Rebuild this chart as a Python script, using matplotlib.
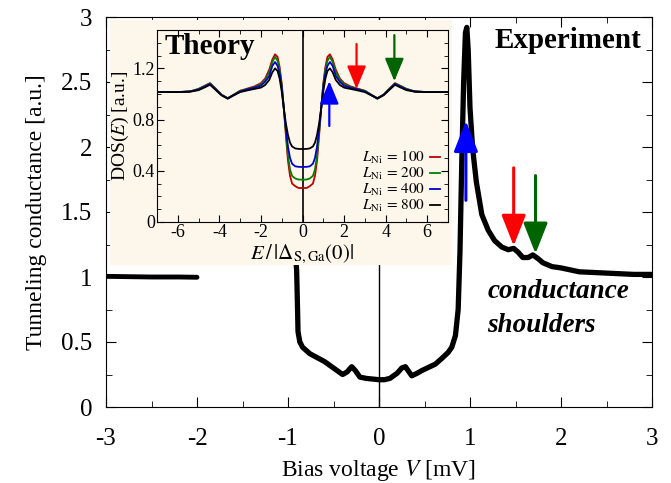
import numpy as np
import matplotlib.pyplot as plt
from matplotlib.patches import Rectangle

plt.rcParams['font.family'] = 'serif'
plt.rcParams['font.serif'] = ['Liberation Serif', 'DejaVu Serif']
plt.rcParams['mathtext.fontset'] = 'stix'
plt.rcParams['axes.unicode_minus'] = False

# measured tunneling conductance (experiment)
v_left = [-3.0, -2.8, -2.5, -2.2, -2.0]
g_left = [1.005, 1.003, 1.0, 1.0, 0.998]

v_exp = [-0.92, -0.905, -0.9, -0.895, -0.89, -0.87, -0.84, -0.76, -0.68, -0.6, -0.54,
         -0.46, -0.40, -0.35, -0.30, -0.26, -0.21, -0.14, -0.07, 0.0, 0.06, 0.12,
         0.20, 0.25, 0.29, 0.33, 0.36, 0.42, 0.47, 0.53, 0.62, 0.70, 0.76, 0.80,
         0.84, 0.87, 0.89, 0.91, 0.93, 0.95, 0.965, 0.98, 1.00, 1.03, 1.07, 1.13,
         1.20, 1.27, 1.35, 1.42, 1.48, 1.53, 1.58, 1.64, 1.69, 1.75, 1.80, 1.90,
         2.0, 2.2, 2.5, 2.8, 3.0]
g_exp = [1.2, 1.05, 0.9, 0.75, 0.58, 0.5, 0.46, 0.41, 0.38, 0.35, 0.32,
         0.28, 0.25, 0.27, 0.31, 0.28, 0.23, 0.22, 0.215, 0.21, 0.21, 0.22,
         0.26, 0.30, 0.31, 0.27, 0.24, 0.26, 0.28, 0.30, 0.33, 0.38, 0.42, 0.46,
         0.55, 0.75, 1.2, 1.9, 2.5, 2.88, 2.92, 2.75, 2.3, 1.98, 1.73, 1.48,
         1.36, 1.28, 1.23, 1.21, 1.22, 1.19, 1.15, 1.15, 1.17, 1.14, 1.11, 1.08,
         1.07, 1.04, 1.03, 1.02, 1.02]

# theory: DOS(E), symmetric in E, values for E >= 0
e_half = [0.0, 0.2, 0.35, 0.5, 0.6, 0.7, 0.8, 0.9, 1.0, 1.1, 1.2, 1.32, 1.45, 1.6,
          1.8, 2.0, 2.3, 2.6, 3.0, 3.3, 3.6, 3.9, 4.2, 4.45, 4.7, 5.0, 5.4, 6.0, 7.0]
dos_100 = [0.265, 0.266, 0.28, 0.30, 0.36, 0.48, 0.68, 0.89, 1.08, 1.21, 1.29, 1.31, 1.27,
           1.19, 1.12, 1.085, 1.06, 1.045, 1.025, 0.995, 0.967, 0.995, 1.045, 1.085,
           1.065, 1.04, 1.02, 1.015, 1.015]
dos_200 = [0.33, 0.332, 0.34, 0.36, 0.41, 0.52, 0.70, 0.89, 1.07, 1.19, 1.26, 1.29, 1.25,
           1.17, 1.11, 1.075, 1.055, 1.04, 1.025, 0.995, 0.967, 0.995, 1.045, 1.082,
           1.062, 1.04, 1.02, 1.015, 1.015]
dos_400 = [0.43, 0.431, 0.435, 0.455, 0.50, 0.59, 0.73, 0.89, 1.05, 1.16, 1.22, 1.25, 1.22,
           1.14, 1.095, 1.065, 1.05, 1.038, 1.02, 0.993, 0.966, 0.993, 1.04, 1.078,
           1.058, 1.035, 1.02, 1.015, 1.015]
dos_800 = [0.57, 0.571, 0.575, 0.59, 0.62, 0.68, 0.77, 0.89, 1.02, 1.12, 1.18, 1.20,
           1.17, 1.11, 1.07, 1.05, 1.04, 1.03, 1.015, 0.99, 0.963, 0.99, 1.035, 1.072,
           1.052, 1.03, 1.018, 1.015, 1.015]
lengths = [100, 200, 400, 800]
colors = ['#c00000', '#008000', '#0000c8', 'black']


def mirror(vals, sign=1):
    vals = np.asarray(vals)
    return np.concatenate([sign * vals[::-1], vals[1:]])


def arrow(ax, x, y0, y1, color, hl, hw, lw=1.6):
    ax.annotate('', xy=(x, y1), xytext=(x, y0),
                arrowprops=dict(arrowstyle='-|>,head_length=%g,head_width=%g' % (hl, hw),
                                color=color, lw=lw, shrinkA=0, shrinkB=0, mutation_scale=1))


fig = plt.figure(figsize=(6.71, 4.83), dpi=100)
ax = fig.add_axes([106 / 671, 1 - 407 / 483, 546 / 671, 390 / 483])

ax.axvline(0, color='black', lw=1.0)
ax.plot(v_left, g_left, color='black', lw=3.5, solid_capstyle='round')
ax.plot(v_exp, g_exp, color='black', lw=3.8, solid_capstyle='round', solid_joinstyle='round')

ax.set_xlim(-3, 3)
ax.set_ylim(0, 3)
ax.set_xticks(np.arange(-3, 3.1, 1))
ax.set_xticks(np.arange(-3, 3.1, 0.5), minor=True)
ax.set_yticks([0, 0.5, 1, 1.5, 2, 2.5, 3])
ax.set_yticklabels(['0', '0.5', '1', '1.5', '2', '2.5', '3'])
ax.set_yticks(np.arange(0, 3.01, 0.25), minor=True)
ax.tick_params(which='both', direction='in', top=True, right=True, labelsize=18)
ax.tick_params(which='major', length=7)
ax.tick_params(which='minor', length=4)
ax.tick_params(axis='x', which='major', pad=15)
ax.tick_params(axis='y', which='major', pad=10)
ax.set_xlabel('Bias voltage $V$ [mV]', fontsize=17, labelpad=6)
ax.set_ylabel('Tunneling conductance [a.u.]', fontsize=17, labelpad=10)

arrow(ax, 0.955, 1.59, 2.2, '#0000ff', 19, 7.5, lw=2.2)
arrow(ax, 1.48, 1.84, 1.24, '#ff0000', 19, 7.5, lw=2.2)
arrow(ax, 1.72, 1.78, 1.18, '#006400', 19, 7.5, lw=2.2)

ax.text(2.88, 2.82, 'Experiment', fontsize=21, fontweight='bold', ha='right', va='center')
ax.text(1.19, 0.885, 'conductance', fontsize=19.5, fontweight='bold', style='italic',
        ha='left', va='center')
ax.text(1.19, 0.63, 'shoulders', fontsize=19.5, fontweight='bold', style='italic',
        ha='left', va='center')

cream = '#fdf6ea'
fig.add_artist(Rectangle((110 / 671, 1 - 265 / 483), 342 / 671, 245 / 483,
                         transform=fig.transFigure, facecolor=cream, edgecolor='none',
                         zorder=1))

ax_in = fig.add_axes([157 / 671, 1 - 222 / 483, 291 / 671, 192 / 483], zorder=2)
ax_in.set_facecolor(cream)
e = mirror(e_half, -1)
ax_in.axvline(0, color='black', lw=1.2)
for L, dos, c in zip(lengths, [dos_100, dos_200, dos_400, dos_800], colors):
    ax_in.plot(e, mirror(dos), color=c, lw=1.3, label=r'$L_{\rm Ni}\,=\,%d$' % L)

ax_in.set_xlim(-7, 7)
ax_in.set_ylim(0, 1.5)
ax_in.set_xticks([-6, -4, -2, 0, 2, 4, 6])
ax_in.set_xticks(np.arange(-7, 7.1, 1), minor=True)
ax_in.set_yticks([0, 0.4, 0.8, 1.2])
ax_in.set_yticklabels(['0', '0.4', '0.8', '1.2'])
ax_in.set_yticks(np.arange(0, 1.51, 0.1), minor=True)
ax_in.tick_params(which='both', direction='in', top=True, right=True, labelsize=13)
ax_in.tick_params(which='major', length=5, pad=1.5)
ax_in.tick_params(which='minor', length=3)
ax_in.set_xlabel(r'$E\,/\,|\Delta_{\rm S,Ga}(0)|$', fontsize=15, labelpad=1)
ax_in.set_ylabel(r'DOS($E$) [a.u.]', fontsize=14, labelpad=1)

arrow(ax_in, 1.29, 0.75, 1.1, '#0000ff', 14, 5.8, lw=1.6)
arrow(ax_in, 2.6, 1.39, 1.04, '#ff0000', 14, 5.8, lw=1.6)
arrow(ax_in, 4.42, 1.46, 1.1, '#006400', 14, 5.8, lw=1.6)

ax_in.text(-6.65, 1.37, 'Theory', fontsize=21, fontweight='bold', ha='left', va='center')

ax_in.legend(loc='lower right', frameon=False, markerfirst=False, fontsize=11,
             handlelength=0.7, handletextpad=0.3, labelspacing=0.0,
             borderaxespad=0.3, borderpad=0.2)

fig.savefig('out.png', dpi=100)
